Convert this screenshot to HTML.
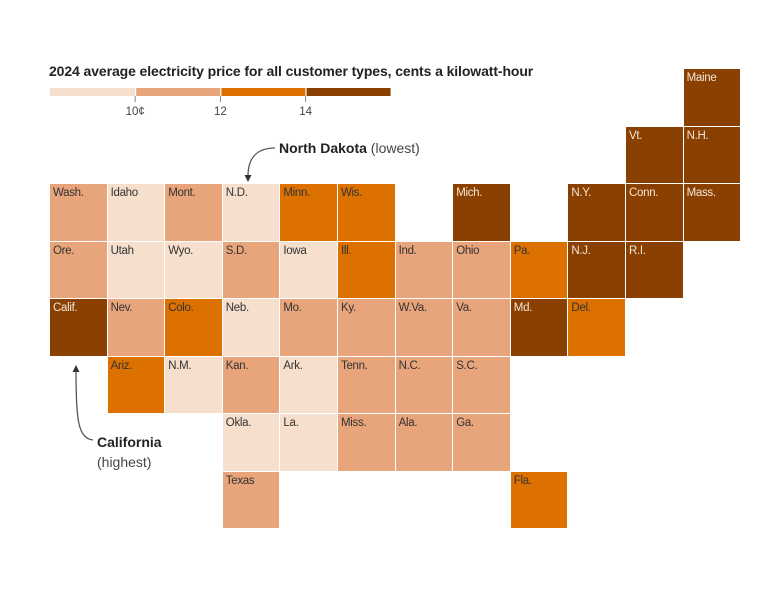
<!DOCTYPE html>
<html><head><meta charset="utf-8">
<style>
body{margin:0;background:#fff;font-family:"Liberation Sans",sans-serif;}
#c{position:relative;width:778px;height:605px;overflow:hidden}
.cell{position:absolute;width:56.6px;height:56.5px;box-sizing:border-box;font-size:11.5px;padding:3px 0 0 3px;color:#333;letter-spacing:-0.3px}
.t{position:absolute;color:#222;white-space:nowrap}
</style></head><body>
<div id="c">
<div class="t" style="left:49px;top:63px;font-size:14px;font-weight:bold;letter-spacing:-0.1px">2024 average electricity price for all customer types, cents a kilowatt-hour</div>
<svg id="leg" width="778" height="605" style="position:absolute;left:0;top:0"></svg>
<div class="t" style="left:279px;top:140px;font-size:14px"><b>North Dakota</b> <span style="color:#444">(lowest)</span></div>
<div class="t" style="left:97px;top:432px;font-size:14px;line-height:20px"><b>California</b><br><span style="color:#444">(highest)</span></div>
</div>
<script>
const states=["Maine","Vt.","N.H.","Wash.","Idaho","Mont.","N.D.","Minn.","Wis.","Mich.","N.Y.","Conn.","Mass.","Ore.","Utah","Wyo.","S.D.","Iowa","Ill.","Ind.","Ohio","Pa.","N.J.","R.I.","Calif.","Nev.","Colo.","Neb.","Mo.","Ky.","W.Va.","Va.","Md.","Del.","Ariz.","N.M.","Kan.","Ark.","Tenn.","N.C.","S.C.","Okla.","La.","Miss.","Ala.","Ga.","Texas","Fla."];
const cols=[11,10,11,0,1,2,3,4,5,7,9,10,11,0,1,2,3,4,5,6,7,8,9,10,0,1,2,3,4,5,6,7,8,9,1,2,3,4,5,6,7,3,4,5,6,7,3,8];
const rows=[0,1,1,2,2,2,2,2,2,2,2,2,2,3,3,3,3,3,3,3,3,3,3,3,4,4,4,4,4,4,4,4,4,4,5,5,5,5,5,5,5,6,6,6,6,6,7,7];
const prices=[18.5,17.5,18.5,11,9.5,10.5,8.5,13,13.5,14.5,17,20,20.5,11,9.5,9.5,11,9.8,13,11.5,11.5,13,15.5,19,22,11,12.5,9.6,11,10.5,10.5,11,14.5,13,12.5,9.8,11,9.7,11,11,11,9.6,9.5,11,11.5,11.5,10.5,13];
const thresholds=[10,12,14];
const tickLabels=["10¢","12","14"];
const colors=["#f6dfcc","#e8a47a","#dc7100","#8a4000"];
const X=c=>50+c*57.6, Y=r=>69+r*57.5;
const bucket=v=>thresholds.filter(t=>v>=t).length;
const C=document.getElementById('c');
states.forEach((s,i)=>{
 const d=document.createElement('div');
 d.className='cell';
 
 
 const b=bucket(prices[i]);
 d.style.left=X(cols[i])+'px';d.style.top=Y(rows[i])+'px';
 d.style.background=colors[b];
 if(b===3)d.style.color='#f3e6da';
 d.textContent=s;C.appendChild(d);
});
const svg=document.getElementById('leg');
const LX=v=>50+(v-8)*42.6;
let h='';
for(let i=0;i<4;i++){h+=`<rect x="${LX(8+i*2)+(i?1:0)}" y="88" width="${85-(i?1:0)}" height="8" fill="${colors[i]}"/>`;}
thresholds.forEach((t,i)=>{const x=LX(t);h+=`<line x1="${x}" x2="${x}" y1="96" y2="102" stroke="#888"/><text x="${x}" y="115" font-size="11.5" text-anchor="middle" fill="#444" font-family="Liberation Sans">${tickLabels[i]}</text>`;});
h+=`<path d="M275,148 C255,148 248,160 248,176" fill="none" stroke="#555" stroke-width="1.3"/><path d="M244.5,175 L251.5,175 L248,182Z" fill="#333"/>`;
h+=`<path d="M93,440 C78,438 76,420 76,372" fill="none" stroke="#555" stroke-width="1.3"/><path d="M72.5,372 L79.5,372 L76,365Z" fill="#333"/>`;
svg.innerHTML=h;
</script>
</body></html>
